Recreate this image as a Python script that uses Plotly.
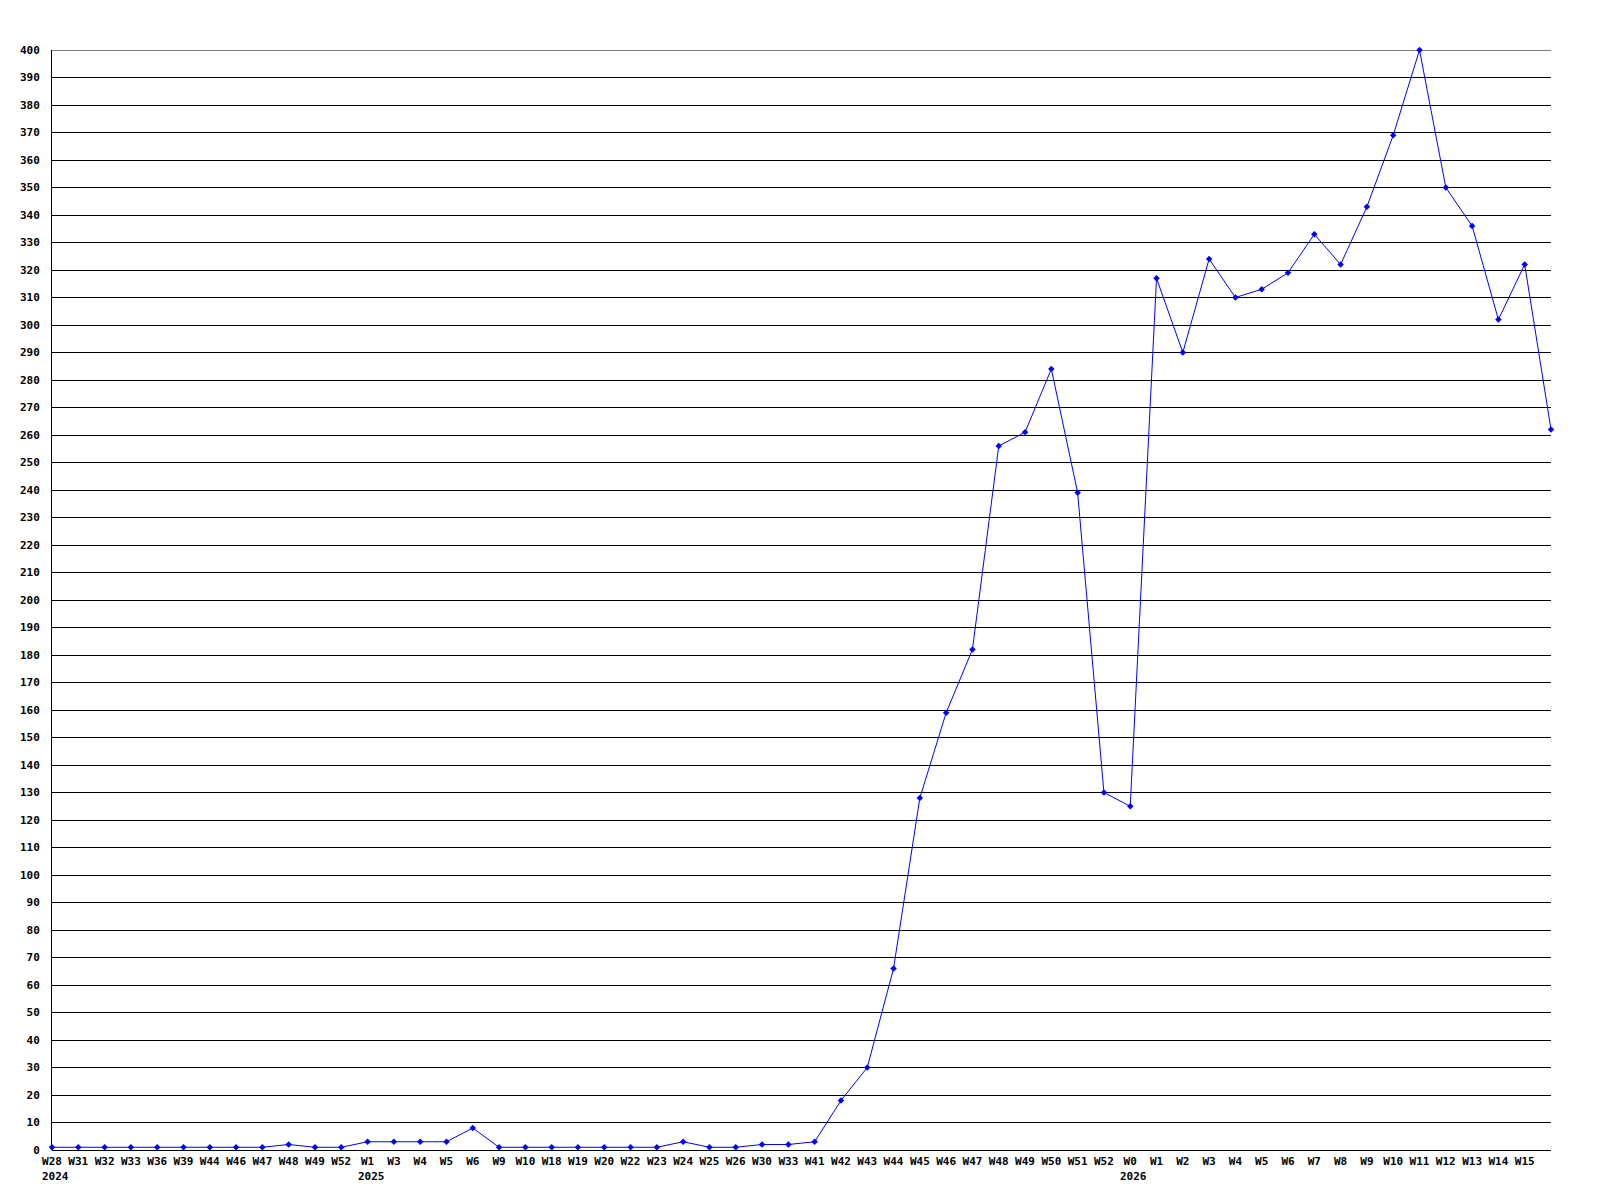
import plotly.graph_objects as go

# weekly counts, one per category (last point has no label)
weeks = [
    "W28", "W31", "W32", "W33", "W36", "W39", "W44", "W46", "W47", "W48", "W49", "W52",
    "W1", "W3", "W4", "W5", "W6", "W9", "W10", "W18", "W19", "W20", "W22", "W23",
    "W24", "W25", "W26", "W30", "W33", "W41", "W42", "W43", "W44", "W45", "W46", "W47",
    "W48", "W49", "W50", "W51", "W52",
    "W0", "W1", "W2", "W3", "W4", "W5", "W6", "W7", "W8", "W9", "W10", "W11", "W12",
    "W13", "W14", "W15", "",
]

counts = [
    1, 1, 1, 1, 1, 1, 1, 1, 1, 2, 1, 1,
    3, 3, 3, 3, 8, 1, 1, 1, 1, 1, 1, 1,
    3, 1, 1, 2, 2, 3, 18, 30, 66, 128, 159, 182,
    256, 261, 284, 239, 130,
    125, 317, 290, 324, 310, 313, 319, 333, 322, 343, 369, 400, 350,
    336, 302, 322, 262,
]

years = ["2024", "2025", "2026"]
year_starts = [0, 12, 41]

y_max = 400
y_ticks = list(range(0, y_max + 1, 10))

idx = list(range(len(counts)))

font = dict(family="DejaVu Sans Mono", size=11, color="black")

fig = go.Figure()

fig.add_trace(
    go.Scatter(
        x=idx,
        y=counts,
        mode="lines+markers",
        line=dict(color="#0000ff", width=1),
        marker=dict(color="#0000ff", size=5, symbol="diamond"),
        cliponaxis=False,
        hoverinfo="x+y",
    )
)

for yr, pos in zip(years, year_starts):
    fig.add_annotation(
        x=pos,
        y=0,
        xref="x",
        yref="y",
        text="<b>" + yr + "</b>",
        showarrow=False,
        xanchor="left",
        yanchor="top",
        xshift=-12,
        yshift=-18,
        font=font,
    )

# plotly drops the grid line at the top edge, draw it by hand
fig.add_shape(
    type="line",
    xref="paper",
    yref="y",
    x0=0,
    x1=1,
    y0=y_max,
    y1=y_max,
    line=dict(color="black", width=1),
    layer="below",
)

# page body adds 8px, so the figure is a bit smaller than the window
fig.update_layout(
    width=1592,
    height=1192,
    paper_bgcolor="white",
    plot_bgcolor="white",
    showlegend=False,
    font=font,
    margin=dict(l=42, r=49, t=42, b=50),
    xaxis=dict(
        range=[0, len(counts) - 1],
        tickvals=idx[:-1],
        ticktext=["<b>" + w + "</b>" for w in weeks[:-1]],
        tickangle=0,
        showgrid=False,
        zeroline=False,
        showline=False,
        ticks="",
        ticklabelstandoff=3,
    ),
    yaxis=dict(
        range=[0, y_max],
        tickvals=y_ticks,
        ticktext=["<b>%d</b>" % v for v in y_ticks],
        showgrid=True,
        gridcolor="black",
        gridwidth=1,
        zeroline=True,
        zerolinecolor="black",
        zerolinewidth=1,
        showline=True,
        linecolor="black",
        linewidth=1,
        ticks="",
        ticklabelstandoff=9,
    ),
)

fig.write_html("out.html")
